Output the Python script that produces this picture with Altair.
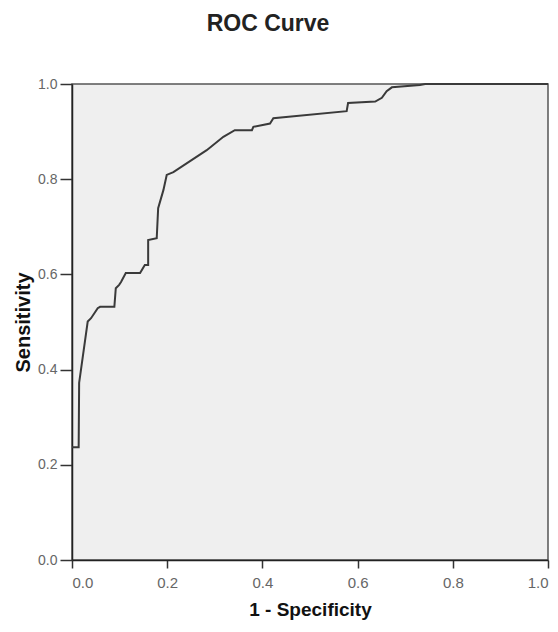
import altair as alt
import pandas as pd

# ROC curve points (1 - specificity, sensitivity)
fpr = [0.000, 0.014, 0.015, 0.033, 0.040, 0.054, 0.059, 0.089, 0.092, 0.099,
       0.103, 0.113, 0.143, 0.153, 0.160, 0.160, 0.178, 0.181, 0.192, 0.199,
       0.213, 0.283, 0.318, 0.342, 0.378, 0.381, 0.416, 0.423, 0.577, 0.580,
       0.637, 0.651, 0.661, 0.672, 0.731, 0.742, 1.000]
tpr = [0.237, 0.237, 0.372, 0.501, 0.508, 0.529, 0.532, 0.532, 0.571, 0.578,
       0.584, 0.603, 0.603, 0.620, 0.620, 0.672, 0.676, 0.739, 0.777, 0.809,
       0.815, 0.861, 0.889, 0.903, 0.903, 0.910, 0.917, 0.928, 0.943, 0.960,
       0.963, 0.971, 0.985, 0.993, 0.998, 1.000, 1.000]
ticks = [0.0, 0.2, 0.4, 0.6, 0.8, 1.0]

df = pd.DataFrame({"fpr": fpr, "tpr": tpr, "i": list(range(len(fpr)))})

FONT = "Liberation Sans"

chart = alt.Chart(df).mark_line(color="#3a3a3a", strokeWidth=2, interpolate="linear").encode(
    x=alt.X("fpr:Q", scale=alt.Scale(domain=[0, 1], nice=False),
            axis=alt.Axis(title="1 - Specificity", values=ticks, format=".1f", grid=False,
                          tickSize=8, labelPadding=7, titlePadding=10,
                          labelFontSize=15, labelColor="#666", labelFont=FONT,
                          titleFontSize=19, titleFont=FONT, titleFontWeight="bold",
                          titleColor="#111", domainColor="#222", tickColor="#333",
                          domainWidth=1.5, tickWidth=1.5)),
    y=alt.Y("tpr:Q", scale=alt.Scale(domain=[0, 1], nice=False),
            axis=alt.Axis(title="Sensitivity", values=ticks, format=".1f", grid=False,
                          tickSize=12, labelPadding=3, titlePadding=4,
                          labelFontSize=14, labelColor="#666", labelFont=FONT,
                          titleFontSize=20, titleFont=FONT, titleFontWeight="bold",
                          titleColor="#111", domainColor="#222", tickColor="#333",
                          domainWidth=1.5, tickWidth=1.5)),
    order="i:Q",
).properties(
    width=476,
    height=476,
    title=alt.Title("ROC Curve", fontSize=23, font=FONT, fontWeight="bold",
                    color="#222", anchor="middle", dx=-42, offset=41),
    padding={"left": 64, "top": 76, "right": 2, "bottom": 64},
    autosize=alt.AutoSizeParams(type="none"),
).configure_view(
    fill="#efefef", stroke="#555", strokeWidth=1.5
)

chart.save("out.html", embed_options={"renderer": "svg", "actions": False})
